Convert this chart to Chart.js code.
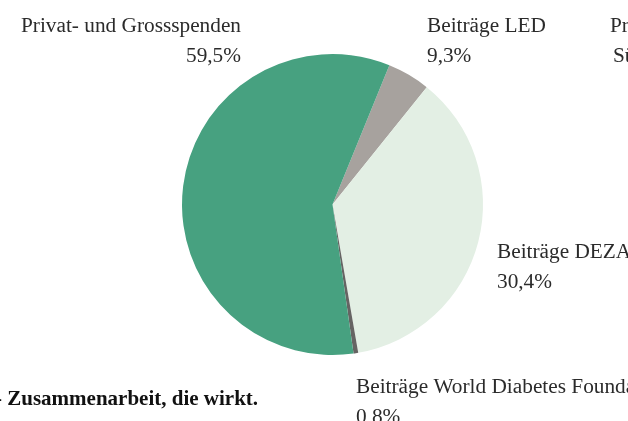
<!DOCTYPE html>
<html lang="de">
<head>
<meta charset="utf-8">
<title>Finanzierung</title>
<script src="https://cdn.jsdelivr.net/npm/chart.js@4/dist/chart.umd.min.js"></script>
<style>
    html, body { margin: 0; padding: 0; background: #fff; }
    #wrap { position: relative; width: 628px; height: 421px; overflow: hidden; }
</style>
</head>
<body>
<div id="wrap"><canvas id="fundingChart"></canvas></div>
<script>
// Funding sources, clockwise from the LED wedge
const categories = ['Beiträge LED', 'Beiträge DEZA', 'Beiträge World Diabetes Foundation', 'Privat- und Grossspenden'];
// wedge sizes as drawn in the picture (%)
const sliceShares = [4.6, 36.5, 0.5, 58.4];
// percentages printed next to the wedges
const printedShares = [9.3, 30.4, 0.8, 59.5];
const sliceColors = ['#a7a29e', '#e3efe4', '#666463', '#47a180'];

const fmtPercent = v => v.toFixed(1).replace('.', ',') + '%';

// outside labels: [category index, x, baseline, align]
const labelSpots = [
    [0, 427, 32, 'left'],
    [1, 497, 258, 'left'],
    [2, 356, 393, 'left'],
    [3, 241, 32, 'right']
];

const calloutPlugin = {
    id: 'callouts',
    afterDraw(chart) {
        const ctx = chart.ctx;
        ctx.save();
        ctx.fillStyle = '#2b2b2b';
        ctx.font = '21.3px "Liberation Serif", serif';
        ctx.textBaseline = 'alphabetic';
        labelSpots.forEach(([i, x, y, align]) => {
            ctx.textAlign = align;
            ctx.fillText(categories[i], x, y);
            ctx.fillText(fmtPercent(printedShares[i]), x, y + 30);
        });
        // neighbouring chart label, cut off at the edge
        ctx.textAlign = 'left';
        ctx.fillText('Pr', 610, 32);
        ctx.fillText('Sü', 613, 62);
        // page footer fragment
        ctx.fillStyle = '#111';
        ctx.font = 'bold 21px "Liberation Serif", serif';
        ctx.fillText('- Zusammenarbeit, die wirkt.', -5, 405);
        ctx.restore();
    }
};

new Chart(document.getElementById('fundingChart'), {
    type: 'pie',
    data: {
        labels: categories,
        datasets: [{
            data: sliceShares,
            backgroundColor: sliceColors,
            borderWidth: 0
        }]
    },
    options: {
        responsive: true,
        maintainAspectRatio: false,
        animation: false,
        rotation: 22.2,
        layout: {
            padding: { top: 54, bottom: 66, left: 182, right: 145 }
        },
        plugins: {
            legend: { display: false },
            tooltip: { enabled: false }
        }
    },
    plugins: [calloutPlugin]
});
</script>
</body>
</html>
